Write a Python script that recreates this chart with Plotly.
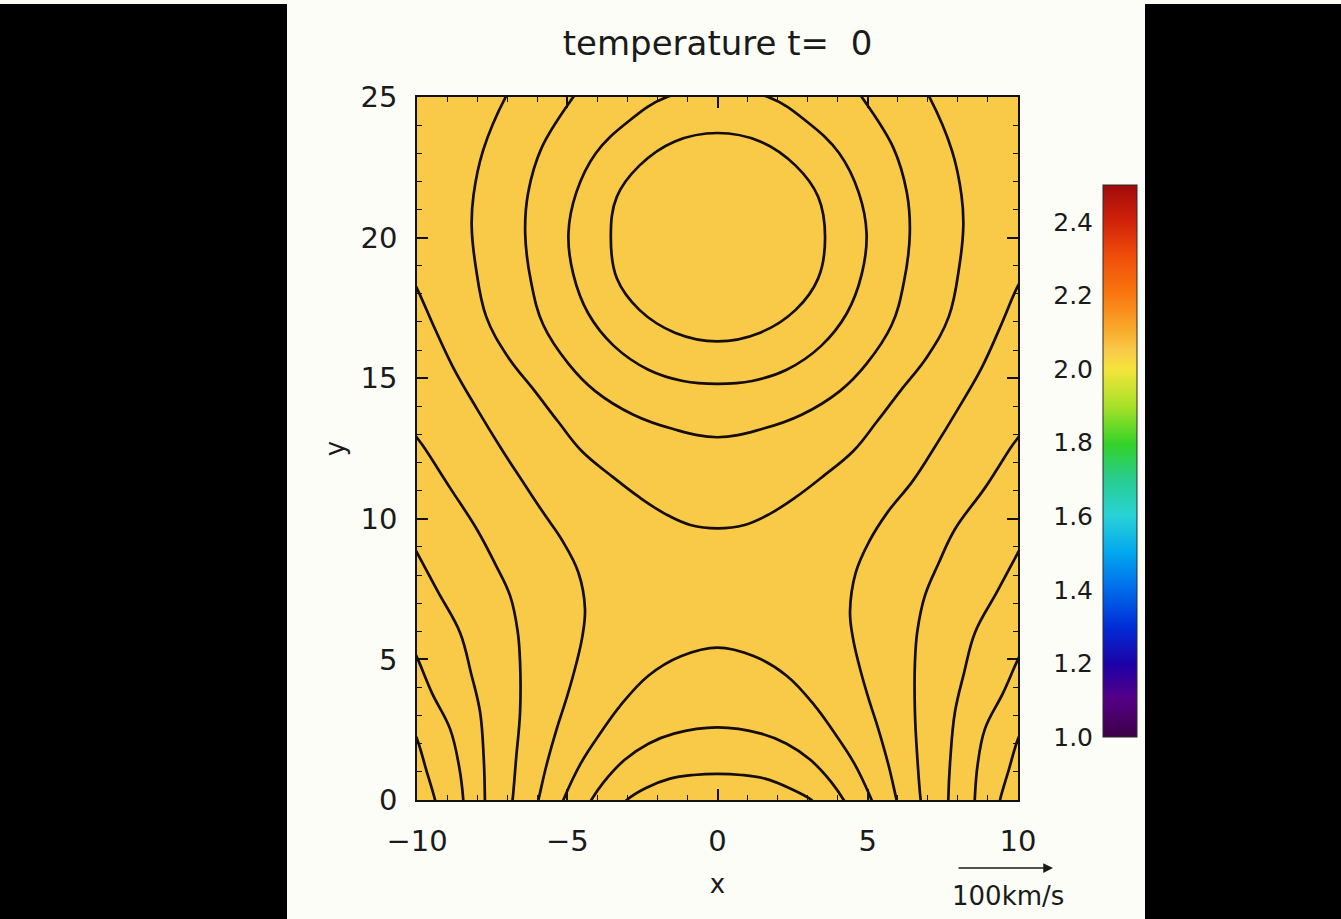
import plotly.graph_objects as go

# ---------------- data ----------------
x_range = [-10, 10]
y_range = [0, 25]
x_ticks = [-10, -5, 0, 5, 10]
y_ticks = [0, 5, 10, 15, 20, 25]
cbar_ticks = [1.0, 1.2, 1.4, 1.6, 1.8, 2.0, 2.2, 2.4]
cbar_labels = ["1.0", "1.2", "1.4", "1.6", "1.8", "2.0", "2.2", "2.4"]
temp_min, temp_max = 1.0, 2.5
grid_x_edges = [-10, 10]
grid_y_edges = [0, 25]
temperature = [[2.05]]          # uniform temperature at t = 0

rope1_x = [0, 1.42, 2.6, 3.35, 3.58, 3.35, 2.6, 1.42, 0, -1.42, -2.6, -3.35, -3.55, -3.35, -2.6, -1.42, 0]
rope1_y = [23.72, 23.42, 22.56, 21.45, 20.0, 18.55, 17.43, 16.62, 16.31, 16.62, 17.43, 18.55, 20.05, 21.45, 22.56, 23.42, 23.72]

rope2_x = [0, 1.68, 3.0, 4.05, 4.7, 4.96, 4.8, 4.3, 3.45, 2.3, 1.15, 0,
           -1.15, -2.3, -3.45, -4.3, -4.8, -4.96, -4.7, -4.05, -3.0, -1.68, 0]
rope2_y = [25.25, 25.0, 24.1, 23.0, 21.6, 20.15, 18.7, 17.3, 16.15, 15.3, 14.9, 14.8,
           14.9, 15.3, 16.15, 17.3, 18.7, 20.15, 21.6, 23.0, 24.1, 25.0, 25.25]

rope3_x = [-4.45, -4.8, -5.85, -6.3, -6.4, -6.2, -5.8, -4.95, -4.07, -2.8, -1.5, 0, 1.5, 2.8, 4.07, 4.95, 5.8, 6.2, 6.4, 6.3, 5.85, 4.8, 4.45]
rope3_y = [25.5, 25.0, 23.2, 21.6, 20.15, 18.4, 16.9, 15.5, 14.54, 13.7, 13.2, 12.9, 13.2, 13.7, 14.54, 15.5, 16.9, 18.4, 20.15, 21.6, 23.2, 25.0, 25.5]

rope4_x = [-6.7, -7.05, -7.8, -8.12, -8.18, -8.05, -7.7, -7.0, -6.08, -5.3, -4.52, -3.5, -2.58, -1.7, -0.9, 0,
           0.9, 1.7, 2.58, 3.5, 4.52, 5.3, 6.08, 7.0, 7.7, 8.05, 8.18, 8.12, 7.8, 7.05, 6.7]
rope4_y = [25.6, 25.0, 23.1, 21.5, 20.4, 19.0, 17.2, 15.8, 14.54, 13.45, 12.41, 11.5, 10.75, 10.15, 9.78, 9.66,
           9.78, 10.15, 10.75, 11.5, 12.41, 13.45, 14.54, 15.8, 17.2, 19.0, 20.4, 21.5, 23.1, 25.0, 25.6]

side1_left_x = [-10.25, -9.96, -9.4, -8.79, -8.0, -7.2, -6.5, -5.8, -5.15, -4.63, -4.41, -4.5, -4.69, -5.0, -5.35, -5.7, -5.96, -6.03]
side1_left_y = [18.7, 18.1, 16.75, 15.37, 13.9, 12.5, 11.35, 10.22, 9.2, 8.09, 6.8, 5.8, 4.89, 3.7, 2.53, 1.2, 0, -0.3]
side1_right_x = [10.25, 9.96, 9.4, 8.79, 8.0, 7.2, 6.5, 5.65, 5.05, 4.6, 4.41, 4.5, 4.69, 5.0, 5.35, 5.7, 5.96, 6.03]
side1_right_y = [18.75, 18.2, 16.8, 15.37, 13.9, 12.5, 11.35, 10.22, 9.2, 8.09, 6.7, 5.8, 4.89, 3.7, 2.53, 1.2, 0, -0.3]

side2_left_x = [-10.3, -10.0, -9.79, -8.9, -8.01, -7.4, -6.9, -6.65, -6.57, -6.57, -6.7, -6.82, -6.86]
side2_left_y = [13.3, 12.88, 12.58, 11.1, 9.63, 8.4, 7.26, 6.0, 4.89, 3.12, 1.5, 0, -0.3]
side2_right_x = [10.3, 10.0, 9.79, 8.9, 7.9, 7.35, 6.9, 6.65, 6.57, 6.57, 6.65, 6.76, 6.8]
side2_right_y = [13.3, 12.88, 12.58, 11.1, 9.63, 8.4, 7.26, 6.0, 4.89, 3.12, 1.5, 0, -0.3]

side3_left_x = [-10.3, -10.0, -9.3, -8.57, -8.2, -7.9, -7.78, -7.74, -7.74]
side3_left_y = [9.4, 8.8, 7.4, 5.96, 4.5, 3.12, 1.5, 0, -0.3]
side3_right_x = [10.3, 10.0, 9.3, 8.57, 8.2, 7.9, 7.75, 7.68, 7.68]
side3_right_y = [9.4, 8.8, 7.4, 5.96, 4.5, 3.12, 1.5, 0, -0.3]

side4_left_x = [-10.3, -10.0, -9.5, -8.9, -8.6, -8.46, -8.45]
side4_left_y = [5.7, 5.07, 3.8, 2.53, 1.2, 0, -0.3]
side4_right_x = [10.3, 10.0, 9.5, 8.9, 8.65, 8.56, 8.55]
side4_right_y = [5.6, 5.0, 3.8, 2.53, 1.2, 0, -0.3]

side5_left_x = [-10.2, -10.0, -9.7, -9.4, -9.35]
side5_left_y = [2.6, 2.17, 1.1, 0, -0.3]
side5_right_x = [10.2, 10.0, 9.7, 9.4, 9.35]
side5_right_y = [2.6, 2.17, 1.1, 0, -0.3]

arch3_x = [-5.2, -5.13, -4.55, -3.85, -3.24, -2.3, -1.2, 0, 1.2, 2.3, 3.24, 3.85, 4.55, 5.13, 5.2]
arch3_y = [-0.2, 0, 1.3, 2.45, 3.35, 4.42, 5.12, 5.42, 5.12, 4.42, 3.35, 2.45, 1.3, 0, -0.2]

arch2_x = [-4.25, -4.2, -3.8, -3.1, -2.3, -1.45, 0, 1.45, 2.3, 3.1, 3.8, 4.2, 4.25]
arch2_y = [-0.1, 0, 0.62, 1.42, 2.0, 2.36, 2.58, 2.36, 2.0, 1.42, 0.62, 0, -0.1]

arch1_x = [-3.1, -3.02, -2.4, -1.58, -0.8, 0, 0.8, 1.58, 2.4, 3.13, 3.2]
arch1_y = [-0.1, 0, 0.42, 0.76, 0.89, 0.93, 0.89, 0.76, 0.42, 0, -0.1]

contour_lines = [
    (rope1_x, rope1_y), (rope2_x, rope2_y), (rope3_x, rope3_y), (rope4_x, rope4_y),
    (side1_left_x, side1_left_y), (side1_right_x, side1_right_y),
    (side2_left_x, side2_left_y), (side2_right_x, side2_right_y),
    (side3_left_x, side3_left_y), (side3_right_x, side3_right_y),
    (side4_left_x, side4_left_y), (side4_right_x, side4_right_y),
    (side5_left_x, side5_left_y), (side5_right_x, side5_right_y),
    (arch3_x, arch3_y), (arch2_x, arch2_y), (arch1_x, arch1_y),
]

title_text = "temperature t=\u00a0\u00a00"
scale_label = "100km/s"

# ---------------- styling ----------------
W, H = 1341, 919
ML, MR, MT, MB = 417, 204, 97, 119
PW, PH = W - ML - MR, H - MT - MB          # 720 x 703


def px_x(p):   # pixel -> paper x
    return (p - ML) / PW


def px_y(p):   # pixel -> paper y
    return (H - MB - p) / PH


rainbow = [
    [0.0, "rgb(60,0,70)"], [0.07, "rgb(85,0,135)"], [0.13, "rgb(30,0,165)"],
    [0.2, "rgb(0,45,215)"], [0.27, "rgb(0,110,235)"], [0.33, "rgb(0,165,240)"],
    [0.40, "rgb(40,210,215)"], [0.47, "rgb(40,205,140)"], [0.53, "rgb(50,210,40)"],
    [0.60, "rgb(170,225,40)"], [0.667, "rgb(245,228,60)"], [0.70, "rgb(249,202,72)"],
    [0.733, "rgb(248,175,45)"], [0.80, "rgb(250,120,15)"], [0.867, "rgb(240,80,10)"],
    [0.933, "rgb(210,35,10)"], [1.0, "rgb(160,10,10)"],
]

FONT = "DejaVu Sans"
INK = "#1a1a1a"

fig = go.Figure()

fig.add_trace(go.Heatmap(
    x=grid_x_edges, y=grid_y_edges, z=temperature,
    zmin=temp_min, zmax=temp_max, colorscale=rainbow,
    hoverinfo="skip",
    colorbar=dict(
        x=px_x(1103), xanchor="left", xref="paper",
        y=px_y(185), yanchor="top", yref="paper",
        len=552, lenmode="pixels", thickness=34, thicknessmode="pixels",
        xpad=0, ypad=0, outlinewidth=1, outlinecolor="#2a2a2a",
        ticks="", showticklabels=False,
    ),
))

for lx, ly in contour_lines:
    fig.add_trace(go.Scatter(
        x=lx, y=ly, mode="lines",
        line=dict(color="#150d03", width=2.7, shape="spline", smoothing=1.1),
        hoverinfo="skip", showlegend=False,
    ))

# invisible trace so the colour-scale label axis is drawn
fig.add_trace(go.Scatter(x=[None], y=[None], yaxis="y2", showlegend=False, hoverinfo="skip"))

axis_common = dict(
    showgrid=False, zeroline=False, showline=True, linecolor="#111111", linewidth=1.6,
    mirror="ticks", ticks="inside", ticklen=11, tickwidth=1.5, tickcolor="#111111",
    tickfont=dict(family=FONT, size=29, color=INK),
    minor=dict(dtick=1, ticks="inside", ticklen=5, tickwidth=1.2, tickcolor="#111111", showgrid=False),
)

# range for the label axis so that 1.0 sits at pixel 737 and 2.5 at pixel 185
u_per_px = (temp_max - temp_min) / (737 - 185)
y2_lo = temp_min - (H - MB - 737) * u_per_px
y2_hi = temp_max + (185 - MT) * u_per_px

fig.update_layout(
    width=W, height=H,
    margin=dict(l=ML, r=MR, t=MT, b=MB, pad=0),
    paper_bgcolor="#000000", plot_bgcolor="#f8cc48",
    showlegend=False, hovermode=False,
    title=dict(text=title_text, x=717.5 / W, xanchor="center", xref="container",
               y=1 - 43 / H, yanchor="middle", yref="container",
               font=dict(family=FONT, size=34, color=INK)),
    xaxis=dict(domain=[0, 601 / PW], range=x_range, tickvals=x_ticks,
               title=dict(text="x", standoff=18, font=dict(family=FONT, size=26, color=INK)),
               ticklabelstandoff=14, **axis_common),
    yaxis=dict(domain=[0, 1], range=y_range, tickvals=y_ticks,
               title=dict(text="y", standoff=8, font=dict(family=FONT, size=26, color=INK)),
               ticklabelstandoff=12, **axis_common),
    yaxis2=dict(overlaying="y", anchor="free", position=px_x(1103), side="left",
                range=[y2_lo, y2_hi], tickvals=cbar_ticks, ticktext=cbar_labels,
                showgrid=False, zeroline=False, showline=False, ticks="",
                ticklabelstandoff=10,
                tickfont=dict(family=FONT, size=25, color=INK)),
    shapes=[
        dict(type="rect", xref="paper", yref="paper", layer="below",
             x0=px_x(287), x1=px_x(1145), y0=px_y(H), y1=px_y(0),
             fillcolor="#fdfdf7", line=dict(width=0)),
        dict(type="rect", xref="paper", yref="paper", layer="below",
             x0=px_x(0), x1=px_x(W), y0=px_y(4), y1=px_y(0),
             fillcolor="#fdfdf7", line=dict(width=0)),
    ],
    annotations=[
        dict(x=px_x(1053), y=px_y(868), xref="paper", yref="paper", text="",
             showarrow=True, ax=-96, ay=0, axref="pixel", ayref="pixel",
             arrowhead=2, arrowsize=1.3, arrowwidth=1.5, arrowcolor=INK),
        dict(x=px_x(1008), y=px_y(896), xref="paper", yref="paper", text=scale_label,
             showarrow=False, xanchor="center", yanchor="middle",
             font=dict(family=FONT, size=26, color=INK)),
    ],
)

fig.write_html("out.html")
